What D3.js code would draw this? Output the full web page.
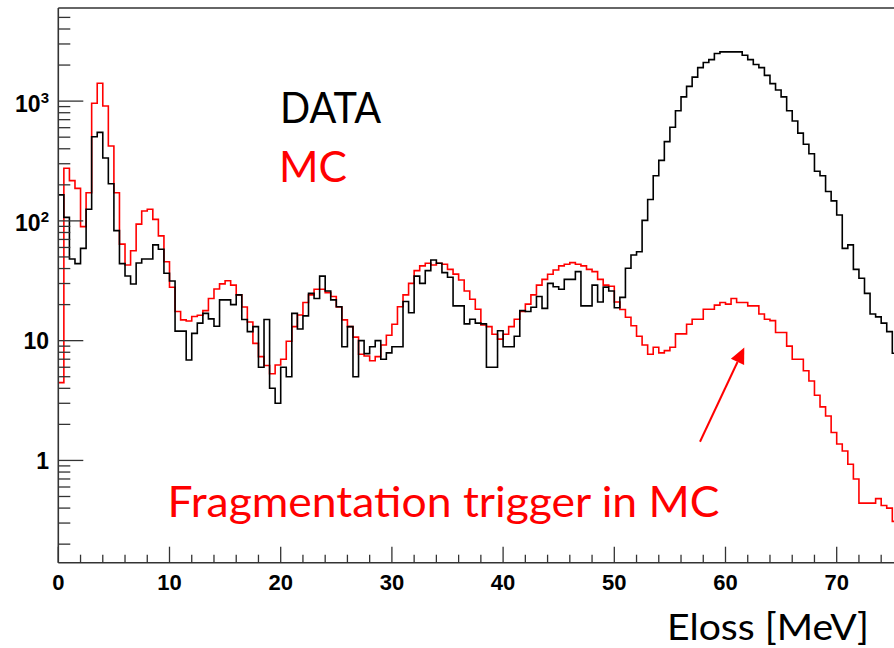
<!DOCTYPE html>
<html><head><meta charset="utf-8">
<script src="https://cdn.jsdelivr.net/npm/d3@7"></script>
<style>body{margin:0;background:#fff;} svg{display:block}</style>
</head><body><svg id="c" width="894" height="648"></svg>
<script>
// ---- data (Eloss histograms, 0.5 MeV bins starting at 0) ----
const binWidth = 0.5;
const dataCounts = [165,107,48,44,59,125,504,548,335,204,
  83,44,34.7,29.7,44.5,48,48,63,58,36.5,
  31.5,12,12,6.9,11.5,14,16.9,15.2,13.2,21.9,
  21.9,20,24.1,15,11.9,13.1,6,15,4,3,
  6,5,16.9,12.5,16.1,24.8,22.5,34.6,26,21.9,
  19.2,8.9,13.1,5.0,10.0,7.8,8.9,10.0,7.0,7.9,
  8.9,8.9,21.2,17.1,34.6,30.1,38.4,47.2,44.3,37.0,
  33.8,19.5,19.5,13.8,15.1,14,13.8,6.0,6.0,12.1,
  8.9,8.9,10.9,17.8,17.5,19.0,23.4,18.6,30.1,28.2,
  26.9,32.5,32.5,37.7,19.5,19.5,29.1,21.0,28,26,
  18.8,23,40.2,51.9,55.2,101,151,238,320,459,
  605,830,1085,1327,1585,1905,2100,2220,2495,2575,
  2575,2575,2575,2415,2220,2020,1905,1640,1400,1240,
  1085,830,683,540,436,364,260,238,176,147,
  112,59,63,39.4,33.2,24.8,16.7,15.8,14.0,11.9,
  7.85];
const mcCounts = [4.46,275,217,187,89.5,172,959,1409,910,422,
  172,64,42.8,56.4,94,121,125,103,75,45.6,
  27.9,17.5,14.9,14.6,15.9,16.3,17.8,22.5,27,29.8,
  31.6,29.1,24.1,19.1,14.3,9.5,7.36,6.2,5.3,6.27,
  7.0,9.9,13.1,16.4,20.8,24.1,26.9,26.9,25.2,23.4,
  19.1,14.9,13.1,10.7,7.7,7.45,6.8,7.36,9.2,11.1,
  13.7,19.2,24.1,30.1,38.4,42.1,44.3,42.8,44.3,43.4,
  39.4,35.9,32.1,26.0,22.2,18.3,13.5,13.1,11.3,10.3,
  11.3,13.1,15.1,17.5,20.2,24.1,29.1,32.5,35.8,38.9,
  42.1,43.4,44.8,43.4,42.1,39.4,37.7,32.5,29.1,28.5,
  21,18.2,15.7,13.3,10.9,9.2,7.7,8.8,7.9,8.25,
  8.8,11.4,11.4,13.7,15.1,15.1,18.3,18.3,19.8,20.8,
  20.2,22.5,20.8,20.8,19.5,19.5,16.7,15.1,14.7,11.7,
  11.7,9.0,7.0,7.0,5.6,4.6,3.5,2.8,2.35,1.71,
  1.37,1.2,0.93,0.70,0.44,0.44,0.44,0.48,0.42,0.40,
  0.31];
const xTickLabels = [0,10,20,30,40,50,60,70];
const xMinorStep = 2;
const yMajorValues = [1,10,100,1000];
const yTickBase = ["1","10","10","10"];
const yTickSup = ["","","2","3"];
const legendLabels = ["DATA","MC"];
const annotationText = "Fragmentation trigger in MC";
const xTitle = "Eloss [MeV]";

// ---- layout ----
const svg = d3.select("#c");
const X0 = 58.3, PXPERMEV = 11.12, YTOP = 8, YBOT = 562.7;
const x = d3.scaleLinear().domain([0,76]).range([X0, X0 + 76*PXPERMEV]);
const y = d3.scaleLog().domain([0.14, 5990]).range([YBOT, YTOP]);

// histograms
function histPath(counts){
  const pts = counts.map((v,i)=>[i*binWidth, v]);
  pts.push([counts.length*binWidth, counts[counts.length-1]]);
  return d3.line().x(d=>x(d[0])).y(d=>y(d[1])).curve(d3.curveStepAfter)(pts);
}
svg.append("path").attr("d", histPath(mcCounts)).attr("fill","none")
  .attr("stroke","#ff0000").attr("stroke-width",1.6);
svg.append("path").attr("d", histPath(dataCounts)).attr("fill","none")
  .attr("stroke","#000").attr("stroke-width",1.6);

// frame
const frameCol = "#333";
svg.append("line").attr("x1",X0).attr("x2",X0).attr("y1",YTOP).attr("y2",YBOT)
  .attr("stroke",frameCol).attr("stroke-width",1.6);
svg.append("line").attr("x1",X0).attr("x2",900).attr("y1",YTOP).attr("y2",YTOP)
  .attr("stroke",frameCol).attr("stroke-width",1.6);
svg.append("line").attr("x1",X0).attr("x2",900).attr("y1",YBOT).attr("y2",YBOT)
  .attr("stroke",frameCol).attr("stroke-width",1.6);

// x ticks
const xMinor = d3.range(0, 76.01, xMinorStep);
svg.append("g").selectAll("line").data(xMinor).join("line")
  .attr("x1",d=>x(d)).attr("x2",d=>x(d))
  .attr("y1",YBOT).attr("y2",d=> d%10===0 ? YBOT-16 : YBOT-8)
  .attr("stroke",frameCol).attr("stroke-width",1.3);
svg.append("g").selectAll("text").data(xTickLabels).join("text")
  .attr("x",d=>x(d)).attr("y",590)
  .attr("text-anchor","middle")
  .attr("font-family","'Liberation Sans', Arial, sans-serif")
  .attr("font-weight","bold").attr("font-size",22)
  .text(d=>d);

// y ticks
const yMinor = [];
[0.1,1,10,100,1000].forEach(dec=>{ for(let k=2;k<=9;k++){ const v=dec*k; if(v>=0.14 && v<=5990) yMinor.push(v);} });
svg.append("g").selectAll("line").data(yMinor).join("line")
  .attr("x1",X0).attr("x2",X0+12).attr("y1",d=>y(d)).attr("y2",d=>y(d))
  .attr("stroke",frameCol).attr("stroke-width",1.3);
svg.append("g").selectAll("line").data(yMajorValues).join("line")
  .attr("x1",X0).attr("x2",X0+25).attr("y1",d=>y(d)).attr("y2",d=>y(d))
  .attr("stroke",frameCol).attr("stroke-width",1.3);
const yl = svg.append("g").selectAll("text").data(yMajorValues).join("text")
  .attr("x",49).attr("y",(d,i)=> y(d) + (yTickSup[i] ? 10.5 : 8.8))
  .attr("text-anchor","end")
  .attr("font-family","'Liberation Sans', Arial, sans-serif")
  .attr("font-weight","bold").attr("font-size",23);
yl.each(function(d,i){
  const t = d3.select(this);
  t.append("tspan").text(yTickBase[i]);
  if (yTickSup[i]) t.append("tspan").attr("dy",-9).attr("font-size",15).text(yTickSup[i]);
});

// text annotations
function fitText(str, xs, base, w, size, color){
  const t = svg.append("text").attr("x",xs).attr("y",base)
    .attr("font-family","Lato, 'Open Sans', sans-serif")
    .attr("font-size",size).attr("fill",color).text(str);
  t.attr("textLength",w).attr("lengthAdjust","spacingAndGlyphs");
  return t;
}
fitText(legendLabels[0], 280, 123.3, 101, 42, "#000");
fitText(legendLabels[1], 279, 181.7, 68, 43, "#ff0000");
fitText(annotationText, 167.5, 517.3, 552, 42, "#ff0000");
fitText(xTitle, 667, 640, 202, 36, "#000");

// arrow
const ax1 = 700, ay1 = 441.7, ax2 = 744.3, ay2 = 347.5;
const ang = Math.atan2(ay2-ay1, ax2-ax1), hl = 16, hw = 7.3;
const bx = ax2 - hl*Math.cos(ang), by = ay2 - hl*Math.sin(ang);
svg.append("line").attr("x1",ax1).attr("y1",ay1).attr("x2",bx).attr("y2",by)
  .attr("stroke","#ff0000").attr("stroke-width",2);
svg.append("path")
  .attr("d",`M${ax2},${ay2}L${bx - hw*Math.sin(ang)},${by + hw*Math.cos(ang)}L${bx + hw*Math.sin(ang)},${by - hw*Math.cos(ang)}Z`)
  .attr("fill","#ff0000");
</script></body></html>
